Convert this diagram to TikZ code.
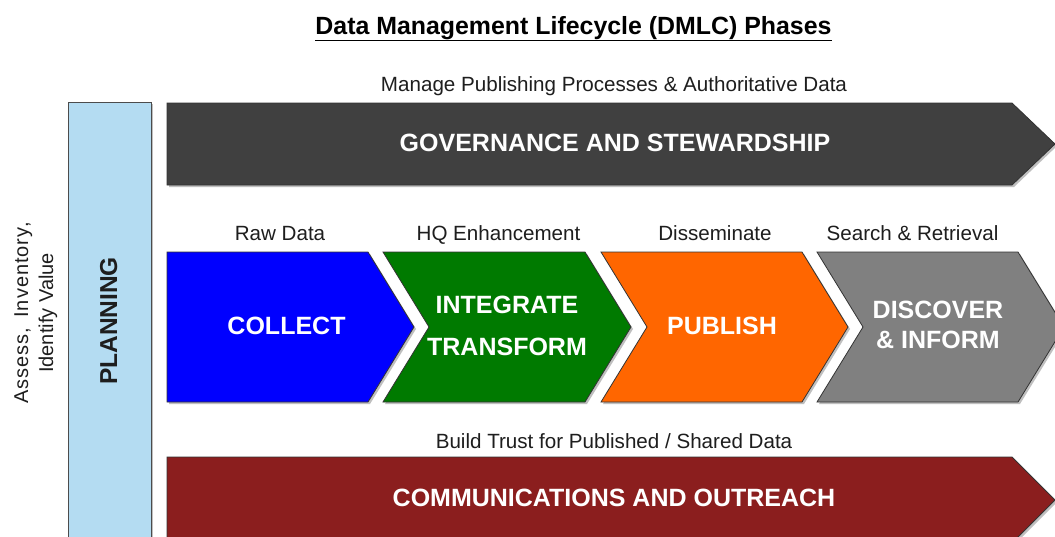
\documentclass[tikz,border=0pt]{standalone}
\usepackage{fontspec}
\setmainfont{Liberation Sans}
\definecolor{govc}{HTML}{404040}
\definecolor{colc}{HTML}{0000FF}
\definecolor{intc}{HTML}{007A00}
\definecolor{pubc}{HTML}{FF6600}
\definecolor{disc}{HTML}{808080}
\definecolor{comc}{HTML}{8B1E1E}
\definecolor{plc}{HTML}{B4DCF2}
\definecolor{txtc}{HTML}{1E1E1E}
\begin{document}
\begin{tikzpicture}[x=1pt,y=-1pt,
  bandshape/.style={draw=black!80, line width=0.8pt, line join=miter},
  shadowshape/.style={fill=black!25, draw=none},
  smalllbl/.style={inner sep=0pt, anchor=base, text=txtc, font=\fontsize{20.6}{24}\selectfont},
  boldlbl/.style={inner sep=0pt, anchor=base, text=white, align=center, font=\fontsize{25}{30}\selectfont\bfseries},
]
\useasboundingbox (0,0) rectangle (1055,536);
\fill[white] (0,0) rectangle (1055,536);
\clip (0,0) rectangle (1055,536);

% title
\node[inner sep=0pt, anchor=base, font=\fontsize{24.9}{29}\selectfont\bfseries] (title) at (573.5,34) {\underline{Data Management Lifecycle (DMLC) Phases}};

% planning bar
\fill[shadowshape] (70,104) rectangle (153,545);
\draw[bandshape, fill=plc, draw=black!70] (68,102) rectangle (151,545);
\node[inner sep=0pt, anchor=base, rotate=90, text=txtc, font=\fontsize{24.5}{29}\selectfont\bfseries] (planning) at (117,321) {PLANNING};
\node[inner sep=0pt, anchor=base, rotate=90, text=txtc, align=center, font=\fontsize{20}{25}\selectfont] (assess) at (53,313) {{\addfontfeature{LetterSpace=5}Assess,\hspace{10pt}Inventory,}\\Identify Value};

% governance band
\fill[shadowshape, shift={(2,2)}] (167,103) -- (1012,103) -- (1055,144) -- (1012,185) -- (167,185) -- cycle;
\draw[bandshape, fill=govc] (167,103) -- (1012,103) -- (1055,144) -- (1012,185) -- (167,185) -- cycle;
\node[smalllbl] (manage) at (614,91) {Manage Publishing Processes \& Authoritative Data};
\node[boldlbl] (gov) at (615,151) {GOVERNANCE AND STEWARDSHIP};

% chevrons
\fill[shadowshape, shift={(2,2)}] (167,252) -- (368,252) -- (414,327) -- (368,402) -- (167,402) -- cycle;
\draw[bandshape, fill=colc] (167,252) -- (368,252) -- (414,327) -- (368,402) -- (167,402) -- cycle;
\fill[shadowshape, shift={(2,2)}] (383,252) -- (585,252) -- (631,327) -- (585,402) -- (383,402) -- (429,327) -- cycle;
\draw[bandshape, fill=intc] (383,252) -- (585,252) -- (631,327) -- (585,402) -- (383,402) -- (429,327) -- cycle;
\fill[shadowshape, shift={(2,2)}] (601,252) -- (802,252) -- (848,327) -- (802,402) -- (601,402) -- (647,327) -- cycle;
\draw[bandshape, fill=pubc] (601,252) -- (802,252) -- (848,327) -- (802,402) -- (601,402) -- (647,327) -- cycle;
\fill[shadowshape, shift={(2,2)}] (817,252) -- (1018,252) -- (1064,327) -- (1018,402) -- (817,402) -- (863,327) -- cycle;
\draw[bandshape, fill=disc] (817,252) -- (1018,252) -- (1064,327) -- (1018,402) -- (817,402) -- (863,327) -- cycle;

\node[smalllbl] (raw) at (280,240) {Raw Data};
\node[smalllbl] (hq) at (498.5,240) {HQ Enhancement};
\node[smalllbl] (diss) at (715,240) {Disseminate};
\node[smalllbl] (search) at (912.5,240) {Search \& Retrieval};

\node[boldlbl] (collect) at (286.5,334) {COLLECT};
\node[boldlbl, font=\fontsize{25}{42}\selectfont\bfseries] (integrate) at (507,355) {INTEGRATE\\TRANSFORM};
\node[boldlbl] (publish) at (722,334) {PUBLISH};
\node[boldlbl] (discover) at (938,348) {DISCOVER\\\& INFORM};

% communications band
\fill[shadowshape, shift={(2,2)}] (167,457) -- (1012,457) -- (1055,500) -- (1012,543) -- (167,543) -- cycle;
\draw[bandshape, fill=comc] (167,457) -- (1012,457) -- (1055,500) -- (1012,543) -- (167,543) -- cycle;
\node[smalllbl] (trust) at (614,448) {Build Trust for Published / Shared Data};
\node[boldlbl] (comm) at (614,506) {COMMUNICATIONS AND OUTREACH};
\end{tikzpicture}
\end{document}
